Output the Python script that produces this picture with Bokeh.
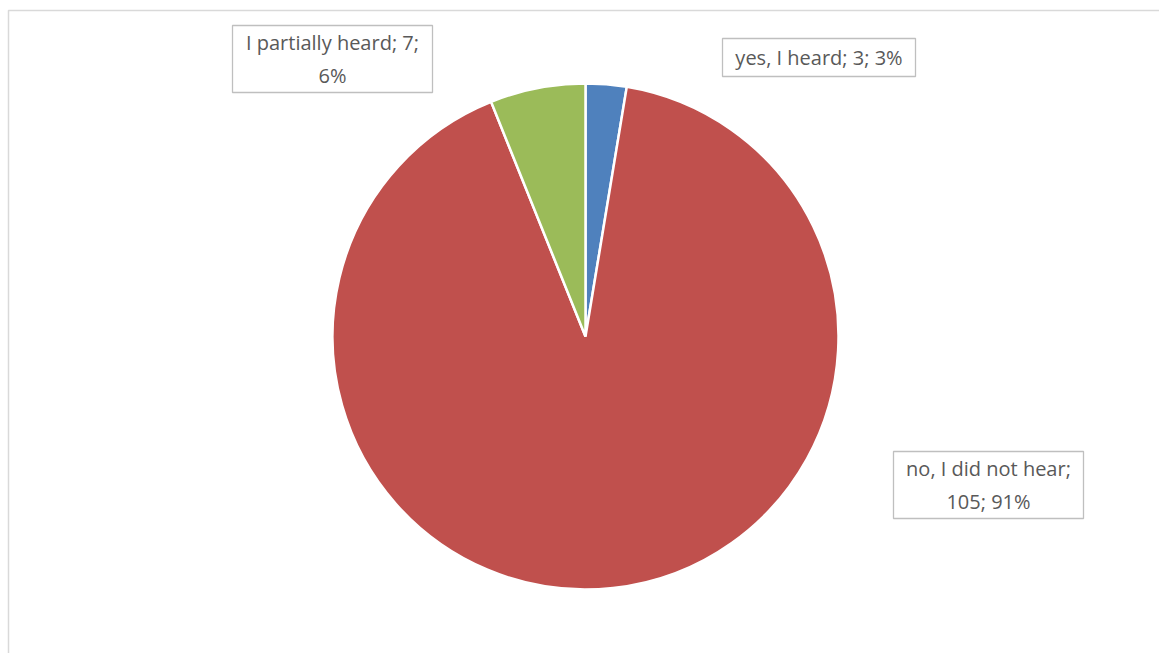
import math
from bokeh.plotting import figure
from bokeh.models import ColumnDataSource, Range1d
from bokeh.core.properties import value
from bokeh.embed import file_html
from bokeh.resources import INLINE

categories = ["yes, I heard", "no, I did not hear", "I partially heard"]
counts = [3, 105, 7]
colors = ["#4F81BD", "#C0504D", "#9BBB59"]

W, H = 1159, 653
p = figure(width=W, height=H, output_backend="svg", toolbar_location=None,
           x_range=Range1d(0, W), y_range=Range1d(0, H), min_border=0)
p.axis.visible = False
p.grid.visible = False
p.outline_line_color = None
p.background_fill_color = "white"

# chart area border
p.quad(left=[8], right=[1175], top=[H - 10], bottom=[-20], fill_color=None,
       line_color="#D9D9D9", line_width=1.5)

total = sum(counts)
cx, cy, r = 585, H - 336, 253
starts, ends = [], []
acc = 0
for c in counts:
    a0 = math.pi / 2 - 2 * math.pi * acc / total
    acc += c
    a1 = math.pi / 2 - 2 * math.pi * acc / total
    starts.append(a0)
    ends.append(a1)
src = ColumnDataSource(dict(start=starts, end=ends, color=colors))
p.wedge(x=cx, y=cy, radius=r, start_angle="start", end_angle="end", direction="clock",
        fill_color="color", line_color="white", line_width=2.5, source=src)

pct = [f"{round(100 * c / total)}%" for c in counts]
texts = [
    f"{categories[0]}; {counts[0]}; {pct[0]}",
    f"{categories[1]};\n{counts[1]}; {pct[1]}",
    f"{categories[2]}; {counts[2]};\n{pct[2]}",
]
# boxes: (left, top, right, bottom) in screen px
boxes = [(722, 38, 915, 76), (893, 451, 1083, 518), (232, 25, 432, 92)]
for t, (l, tp, rr, b) in zip(texts, boxes):
    p.quad(left=[l], right=[rr], top=[H - tp], bottom=[H - b], fill_color="white",
           line_color="#BFBFBF", line_width=1.3)
    p.text(x=[(l + rr) / 2], y=[H - (tp + b) / 2], text=[t], text_align="center",
           text_baseline="middle", text_font=value("Open Sans"), text_font_size="20px",
           text_color="#595959", text_line_height=1.2)

open("out.html", "w").write(file_html(p, INLINE))
